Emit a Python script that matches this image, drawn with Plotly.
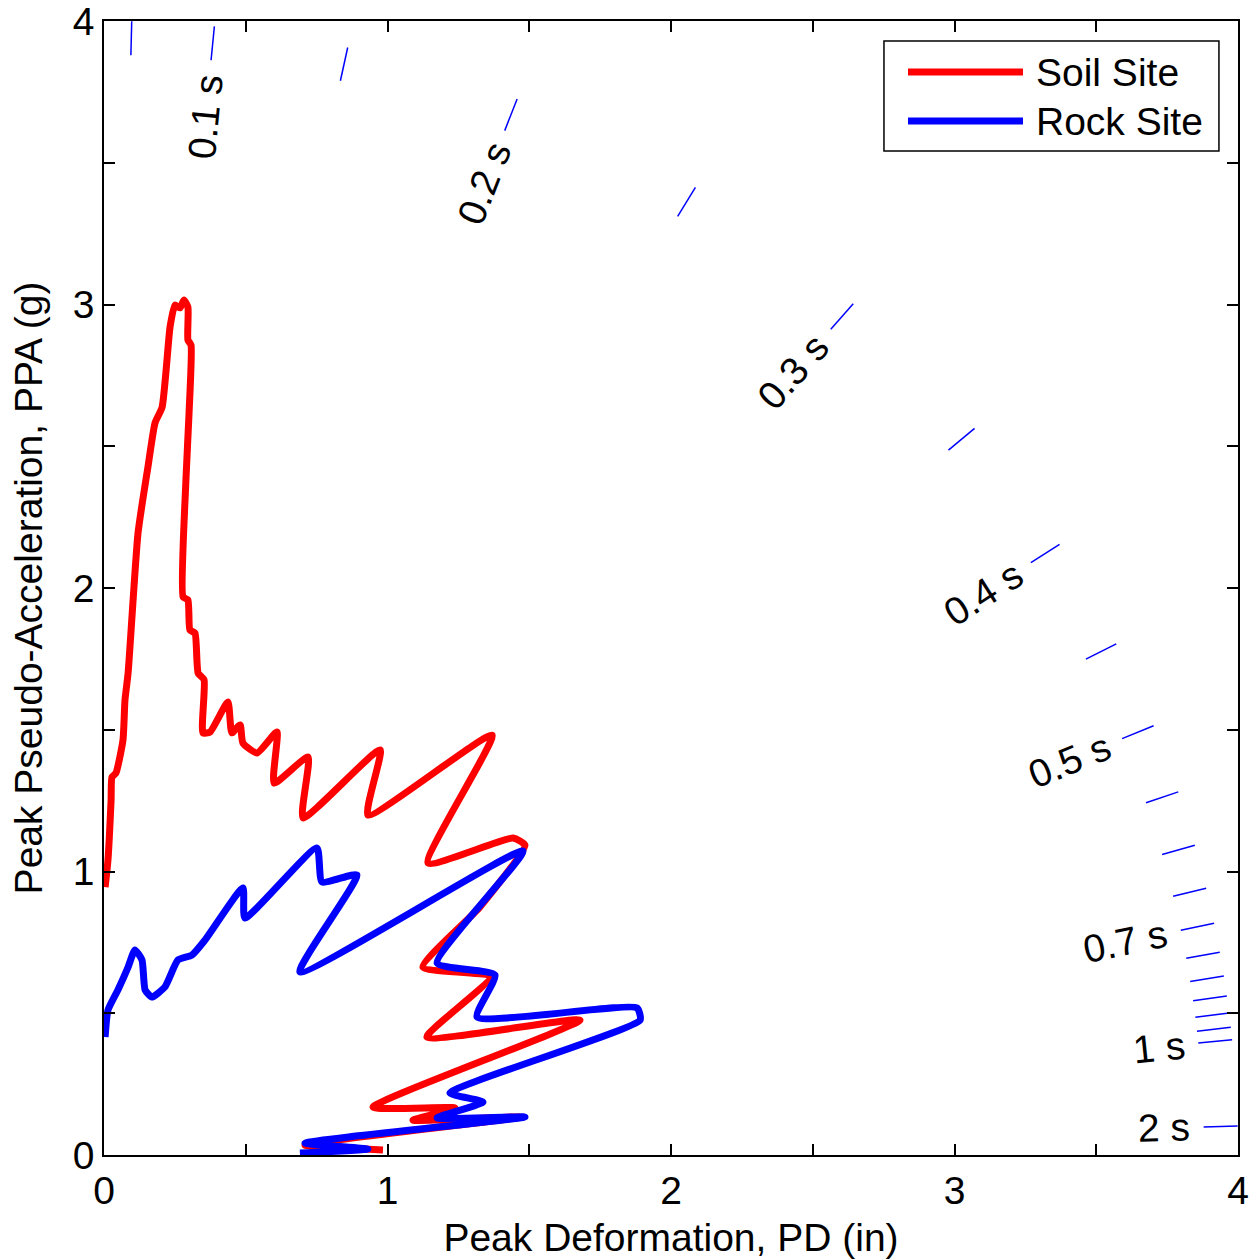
import numpy as np
import plotly.graph_objects as go

# ---- data ----
soil_pd = [0.004, 0.014, 0.025, 0.028, 0.042, 0.067, 0.074, 0.085, 0.120, 0.155, 0.180, 0.205,
           0.233, 0.250, 0.268, 0.282, 0.296, 0.296, 0.307, 0.300, 0.289, 0.279, 0.296, 0.303,
           0.321, 0.332, 0.353, 0.349, 0.374, 0.437, 0.451, 0.480, 0.490, 0.540, 0.610, 0.600,
           0.720, 0.702, 0.974, 0.931, 1.369, 1.143, 1.443, 1.485, 1.326, 1.125, 1.362, 1.139,
           1.679, 0.949, 1.238, 1.090, 1.467, 0.709, 0.984]
soil_ppa = [0.945, 1.041, 1.252, 1.333, 1.347, 1.464, 1.605, 1.700, 2.194, 2.427, 2.582, 2.638,
            2.921, 2.998, 2.988, 3.016, 2.991, 2.875, 2.857, 2.617, 2.381, 1.968, 1.958, 1.852,
            1.841, 1.700, 1.676, 1.489, 1.492, 1.598, 1.489, 1.517, 1.453, 1.418, 1.492, 1.312,
            1.404, 1.189, 1.429, 1.199, 1.481, 1.030, 1.118, 1.093, 0.875, 0.663, 0.628, 0.416,
            0.476, 0.169, 0.166, 0.123, 0.134, 0.035, 0.018]

rock_pd = [0.004, 0.014, 0.049, 0.085, 0.109, 0.134, 0.145, 0.169, 0.215, 0.261, 0.310, 0.356,
           0.490, 0.497, 0.751, 0.769, 0.892, 0.691, 1.478, 1.175, 1.379, 1.316, 1.880, 1.891,
           1.220, 1.337, 1.175, 1.485, 0.709, 0.931, 0.691]
rock_ppa = [0.416, 0.511, 0.582, 0.663, 0.723, 0.688, 0.582, 0.557, 0.593, 0.688, 0.705, 0.758,
            0.942, 0.836, 1.083, 0.963, 0.988, 0.646, 1.072, 0.677, 0.635, 0.487, 0.519, 0.476,
            0.219, 0.187, 0.131, 0.134, 0.042, 0.021, 0.007]

periods = [0.05, 0.10, 0.15, 0.20, 0.25, 0.30, 0.35, 0.40, 0.45, 0.50, 0.55, 0.60, 0.65,
           0.70, 0.75, 0.80, 0.85, 0.90, 0.95, 1.00, 2.00]
label_periods = [0.1, 0.2, 0.3, 0.4, 0.5, 0.7, 1.0, 2.0]
label_texts = ["0.1 s", "0.2 s", "0.3 s", "0.4 s", "0.5 s", "0.7 s", "1 s", "2 s"]

series_names = ["Soil Site", "Rock Site"]
series_colors = ["#ff0000", "#0000ff"]

tick_vals = [0, 0.5, 1, 1.5, 2, 2.5, 3, 3.5, 4]
tick_text = ["0", "", "1", "", "2", "", "3", "", "4"]

G_IN = 386.09  # in/s^2


def slope(T):
    return (2 * np.pi / T) ** 2 / G_IN


FONT = "Liberation Sans, Arial, Helvetica, sans-serif"
FS = 39

fig = go.Figure()

# period tick marks (short radial segments near the outer edge)
dx, dy = [], []
for T in periods:
    th = np.arctan(slope(T))
    for r in (3.88, 4.0):
        dx.append(r * np.cos(th))
        dy.append(r * np.sin(th))
    dx.append(None)
    dy.append(None)
fig.add_trace(go.Scatter(x=dx, y=dy, mode="lines", line=dict(color="#0000ff", width=1.5),
                         showlegend=False, hoverinfo="skip"))

fig.add_trace(go.Scatter(x=soil_pd, y=soil_ppa, mode="lines", name=series_names[0],
                         line=dict(color=series_colors[0], width=7, shape="spline", smoothing=0.5),
                         showlegend=False))
fig.add_trace(go.Scatter(x=rock_pd, y=rock_ppa, mode="lines", name=series_names[1],
                         line=dict(color=series_colors[1], width=7, shape="spline", smoothing=0.5),
                         showlegend=False))

for T, txt in zip(label_periods, label_texts):
    th = np.arctan(slope(T))
    r = 3.68 if len(txt) > 3 else 3.74
    fig.add_annotation(x=r * np.cos(th), y=r * np.sin(th), text=txt, showarrow=False,
                       textangle=-np.degrees(th), font=dict(family=FONT, size=FS, color="black"),
                       xanchor="center", yanchor="middle")

# legend box (drawn by hand to match the reference's padding)
fig.add_shape(type="rect", xref="paper", yref="paper", x0=0.6878, x1=0.9832, y0=0.8854, y1=0.9824,
              line=dict(color="black", width=1.5), fillcolor="white", layer="above")
for i, (nm, col) in enumerate(zip(series_names, series_colors)):
    yy = 0.9550 - i * 0.0432
    fig.add_shape(type="line", xref="paper", yref="paper", x0=0.7090, x1=0.8104, y0=yy, y1=yy,
                  line=dict(color=col, width=7), layer="above")
    fig.add_annotation(xref="paper", yref="paper", x=0.8205, y=yy, text=nm, showarrow=False,
                       xanchor="left", yanchor="middle",
                       font=dict(family=FONT, size=FS, color="black"))

axis_common = dict(range=[0, 4], tickvals=tick_vals, ticktext=tick_text, ticks="inside",
                   ticklen=11, tickwidth=1.5, tickcolor="black", showline=True, linecolor="black",
                   linewidth=1.5, mirror="ticks", showgrid=False, zeroline=False, automargin=False,
                   ticklabeloverflow="allow",
                   tickfont=dict(family=FONT, size=FS, color="black"))

fig.update_layout(
    width=1253, height=1259,
    margin=dict(l=104, r=15, t=21, b=104),
    paper_bgcolor="white", plot_bgcolor="white",
    xaxis=dict(title=dict(text="Peak Deformation, PD (in)", font=dict(family=FONT, size=FS, color="black"),
                          standoff=14), **axis_common),
    yaxis=dict(title=dict(text="Peak Pseudo-Acceleration, PPA (g)", font=dict(family=FONT, size=FS, color="black"),
                          standoff=18), **axis_common),
    showlegend=False,
)

fig.write_html("out.html")
